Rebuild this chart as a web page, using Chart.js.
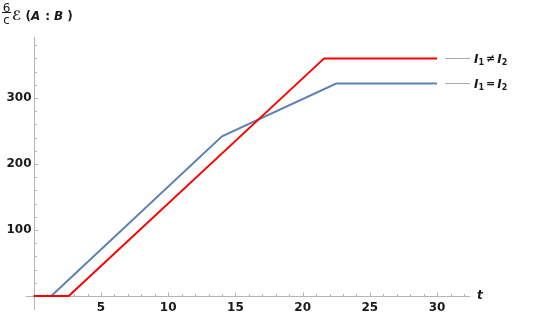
<!DOCTYPE html>
<html>
<head>
<meta charset="utf-8">
<script src="https://cdn.jsdelivr.net/npm/chart.js@4/dist/chart.umd.min.js"></script>
<style>
  html, body { margin: 0; padding: 0; background: #fff; }
  #wrap { width: 545px; height: 314px; }
</style>
</head>
<body>
<div id="wrap"><canvas id="chart" width="545" height="314"></canvas></div>
<script>
// dados
const tNeq = [0, 2.6, 21.6, 30];
const valuesNeq = [0, 0, 360, 360];
const tEq = [0, 1.3, 14, 22.5, 30];
const valuesEq = [0, 0, 242, 322, 322];
const xTickLabels = [5, 10, 15, 20, 25, 30];
const yTickLabels = [100, 200, 300];

const AXIS_COLOR = '#b5b5b5';
const TEXT_COLOR = '#1a1a1a';
const FONT = '"DejaVu Sans", sans-serif';

function toPoints(xs, ys) {
  return xs.map((x, i) => ({ x, y: ys[i] }));
}

// desenha uma sequencia de pedacos de texto (com subscritos)
function drawRich(ctx, x, y, parts) {
  let cx = x;
  parts.forEach((p) => {
    ctx.font = p.font;
    ctx.fillText(p.text, cx, y + (p.dy || 0));
    cx += ctx.measureText(p.text).width + (p.gap || 0);
  });
}

const axesPlugin = {
  id: 'mathAxes',
  beforeDatasetsDraw(chart) {
    const { ctx, chartArea, scales } = chart;
    const xs = scales.x;
    const ys = scales.y;
    const x0 = Math.round(xs.getPixelForValue(0)) + 0.5;
    const y0 = Math.round(ys.getPixelForValue(0)) + 0.5;
    ctx.save();
    ctx.strokeStyle = AXIS_COLOR;
    ctx.lineWidth = 1;
    ctx.beginPath();
    ctx.moveTo(chartArea.left, y0);
    ctx.lineTo(chartArea.right, y0);
    ctx.moveTo(x0, chartArea.top);
    ctx.lineTo(x0, chartArea.bottom);
    // marcas do eixo x
    for (let t = 1; t <= xs.max; t += 1) {
      const px = Math.round(xs.getPixelForValue(t)) + 0.5;
      const len = t % 5 === 0 ? 4 : 2.5;
      ctx.moveTo(px, y0);
      ctx.lineTo(px, y0 - len);
    }
    // marcas do eixo y
    for (let v = 20; v <= ys.max; v += 20) {
      const py = Math.round(ys.getPixelForValue(v)) + 0.5;
      const len = v % 100 === 0 ? 4 : 2.5;
      ctx.moveTo(x0, py);
      ctx.lineTo(x0 + len, py);
    }
    ctx.stroke();

    ctx.fillStyle = TEXT_COLOR;
    ctx.font = 'bold 12px ' + FONT;
    ctx.textAlign = 'center';
    ctx.textBaseline = 'top';
    xTickLabels.forEach((t) => {
      ctx.fillText(String(t), xs.getPixelForValue(t), y0 + 5);
    });
    ctx.textAlign = 'right';
    ctx.textBaseline = 'middle';
    yTickLabels.forEach((v) => {
      ctx.fillText(String(v), x0 - 3, ys.getPixelForValue(v));
    });

    // rotulo do eixo x
    ctx.textAlign = 'left';
    ctx.font = 'italic bold 12px ' + FONT;
    ctx.fillText('t', chartArea.right + 7, y0 - 1);

    // rotulo do eixo y: 6/c ℰ(A : B)
    ctx.textAlign = 'center';
    ctx.textBaseline = 'alphabetic';
    ctx.font = '12px ' + FONT;
    ctx.fillText('6', 6.5, 11.5);
    ctx.fillText('c', 6.5, 24);
    ctx.fillRect(2, 12, 9, 1);
    ctx.textAlign = 'left';
    drawRich(ctx, 12, 19.5, [
      { text: 'ℰ', font: 'italic bold 13px ' + FONT, gap: 4 },
      { text: '(', font: 'bold 12px ' + FONT, gap: 0 },
      { text: 'A', font: 'italic bold 12px ' + FONT, gap: 5 },
      { text: ':', font: 'bold 12px ' + FONT, gap: 4 },
      { text: 'B', font: 'italic bold 12px ' + FONT, gap: 4 },
      { text: ')', font: 'bold 12px ' + FONT },
    ]);
    ctx.restore();
  },
  afterDatasetsDraw(chart) {
    const { ctx, chartArea, scales } = chart;
    const labels = [
      { y: valuesNeq[valuesNeq.length - 1], op: '≠', x: tNeq[tNeq.length - 1] },
      { y: valuesEq[valuesEq.length - 1], op: '=', x: tEq[tEq.length - 1] },
    ];
    ctx.save();
    labels.forEach((l) => {
      const py = Math.round(scales.y.getPixelForValue(l.y)) + 0.5;
      const px = scales.x.getPixelForValue(l.x);
      ctx.strokeStyle = '#aaaaaa';
      ctx.lineWidth = 1;
      ctx.beginPath();
      ctx.moveTo(px + 8, py);
      ctx.lineTo(chartArea.right, py);
      ctx.stroke();
      ctx.fillStyle = TEXT_COLOR;
      ctx.textAlign = 'left';
      ctx.textBaseline = 'middle';
      const bi = 'italic bold 12px ' + FONT;
      const sub = 'bold 8px ' + FONT;
      drawRich(ctx, chartArea.right + 4, py + 1, [
        { text: 'I', font: bi },
        { text: '1', font: sub, dy: 3, gap: 2 },
        { text: l.op, font: 'bold 11px ' + FONT, gap: 2 },
        { text: 'I', font: bi },
        { text: '2', font: sub, dy: 3 },
      ]);
    });
    ctx.restore();
  },
};

const ctx = document.getElementById('chart').getContext('2d');
new Chart(ctx, {
  type: 'line',
  data: {
    datasets: [
      {
        label: 'I1 ≠ I2',
        data: toPoints(tNeq, valuesNeq),
        borderColor: '#ff0000',
        borderWidth: 2,
        pointRadius: 0,
        tension: 0,
        fill: false,
      },
      {
        label: 'I1 = I2',
        data: toPoints(tEq, valuesEq),
        borderColor: '#5e81b5',
        borderWidth: 2,
        pointRadius: 0,
        tension: 0,
        fill: false,
      },
    ],
  },
  options: {
    responsive: false,
    animation: false,
    devicePixelRatio: 1,
    layout: { padding: { left: 26, right: 75, top: 37, bottom: 4 } },
    plugins: {
      legend: { display: false },
      tooltip: { enabled: false },
    },
    scales: {
      x: { type: 'linear', min: -0.58, max: 32.45, display: false },
      y: { type: 'linear', min: -21.2, max: 392.4, display: false },
    },
  },
  plugins: [axesPlugin],
});
</script>
</body>
</html>
